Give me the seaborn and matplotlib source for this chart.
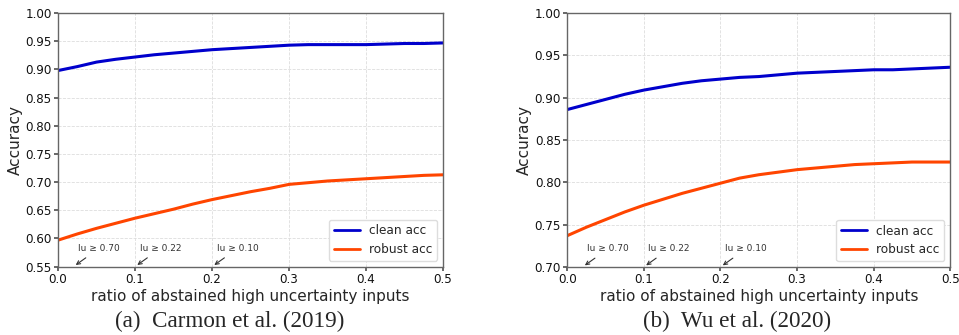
import numpy as np
import pandas as pd
import matplotlib
matplotlib.use("Agg")
import matplotlib.pyplot as plt
import seaborn as sns

ratio = [0.0, 0.025, 0.05, 0.075, 0.1, 0.125, 0.15, 0.175, 0.2, 0.225, 0.25,
         0.275, 0.3, 0.325, 0.35, 0.375, 0.4, 0.425, 0.45, 0.475, 0.5]

carmon_clean = [0.898, 0.905, 0.913, 0.918, 0.922, 0.926, 0.929, 0.932, 0.935, 0.937, 0.939,
                0.941, 0.943, 0.944, 0.944, 0.944, 0.944, 0.945, 0.946, 0.946, 0.947]
carmon_robust = [0.597, 0.608, 0.618, 0.627, 0.636, 0.644, 0.652, 0.661, 0.669, 0.676, 0.683,
                 0.689, 0.696, 0.699, 0.702, 0.704, 0.706, 0.708, 0.710, 0.712, 0.713]
wu_clean = [0.886, 0.892, 0.898, 0.904, 0.909, 0.913, 0.917, 0.920, 0.922, 0.924, 0.925,
            0.927, 0.929, 0.930, 0.931, 0.932, 0.933, 0.933, 0.934, 0.935, 0.936]
wu_robust = [0.737, 0.747, 0.756, 0.765, 0.773, 0.780, 0.787, 0.793, 0.799, 0.805, 0.809,
             0.812, 0.815, 0.817, 0.819, 0.821, 0.822, 0.823, 0.824, 0.824, 0.824]

series_names = ["clean acc", "robust acc"]
colors = ["#0000CC", "#FF4500"]
annot_x = [0.02, 0.1, 0.2]
annot_labels = ["lu \u2265 0.70", "lu \u2265 0.22", "lu \u2265 0.10"]
captions = ["(a)  Carmon et al. (2019)", "(b)  Wu et al. (2020)"]
caption_x = [0.239, 0.769]
ylims = [(0.55, 1.00), (0.70, 1.00)]
yticks_list = [np.arange(0.55, 1.001, 0.05), np.arange(0.70, 1.001, 0.05)]

sns.set_theme(style="white")
plt.rcParams['font.family'] = ['DejaVu Sans']

fig = plt.figure(figsize=(9.59, 3.35), dpi=100)
ax1 = fig.add_axes([0.0605, 0.204, 0.4015, 0.757])
ax2 = fig.add_axes([0.5915, 0.203, 0.3995, 0.758])

datasets = [(carmon_clean, carmon_robust), (wu_clean, wu_robust)]
for ax, (clean, robust), yl, yt, cap, cx in zip([ax1, ax2], datasets, ylims, yticks_list,
                                                captions, caption_x):
    df = pd.DataFrame({
        "ratio": ratio * 2,
        "acc": clean + robust,
        "series": [series_names[0]] * len(ratio) + [series_names[1]] * len(ratio),
    })
    sns.lineplot(data=df, x="ratio", y="acc", hue="series", palette=colors,
                 linewidth=2.2, ax=ax)
    ax.set_xlim(0, 0.5)
    ax.set_ylim(*yl)
    ax.set_yticks(yt)
    ax.set_yticklabels([f"{v:.2f}" for v in yt])
    ax.set_xticks([0, 0.1, 0.2, 0.3, 0.4, 0.5])
    ax.set_xticklabels(["0.0", "0.1", "0.2", "0.3", "0.4", "0.5"])
    ax.tick_params(labelsize=8.6, length=3, color="#555555", direction="out", pad=1.5,
                   bottom=True, left=True, labelcolor="#111111")
    ax.grid(True, linestyle="--", linewidth=0.6, color="#DDDDDD")
    for s in ax.spines.values():
        s.set_color("#666666")
        s.set_linewidth(1.0)
    ax.set_xlabel("ratio of abstained high uncertainty inputs", fontsize=11, labelpad=2)
    ax.set_ylabel("Accuracy", fontsize=11, labelpad=2)
    leg = ax.legend(loc="lower right", fontsize=8.7, frameon=True, framealpha=1,
                    handlelength=2.15, handletextpad=0.75, borderpad=0.4,
                    labelspacing=0.45, borderaxespad=0.5, fancybox=True)
    leg.get_frame().set_edgecolor("#DDDDDD")
    for line in leg.get_lines():
        line.set_linewidth(2.0)
    y0 = yl[0]
    span = yl[1] - yl[0]
    for xv, lab in zip(annot_x, annot_labels):
        ax.annotate(lab, xy=(xv, y0), xytext=(xv + 0.006, y0 + 0.062 * span),
                    fontsize=6.5, color="#333333",
                    arrowprops=dict(arrowstyle="->", color="#333333", lw=0.8))
    fig.text(cx, 0.039, cap, ha="center", va="center",
             fontsize=16.7, family="Liberation Serif")

fig.savefig("out.png", dpi=100)
